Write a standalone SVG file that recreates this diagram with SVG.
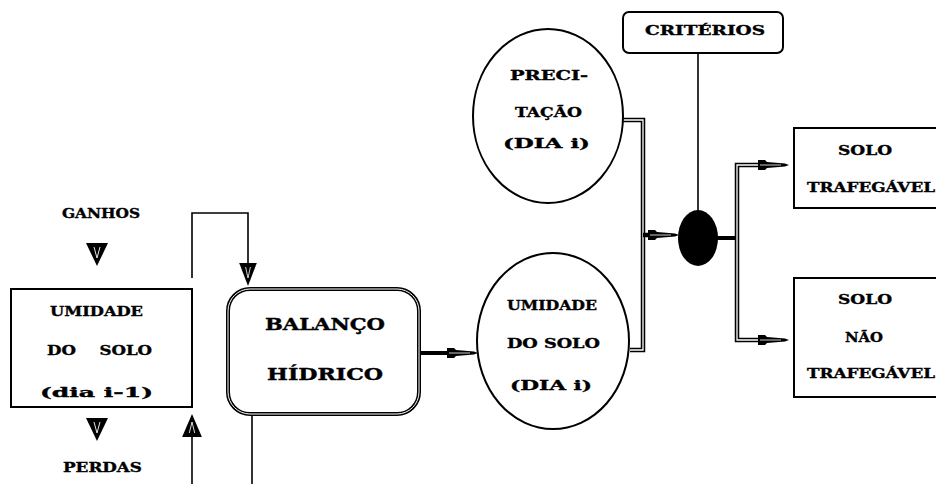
<svg xmlns="http://www.w3.org/2000/svg" width="936" height="484" viewBox="0 0 936 484">
<defs>
<style>
.t{font-family:"DejaVu Serif","Liberation Serif",serif;font-weight:bold;font-size:13px;fill:#000;stroke:#000;stroke-width:0.35}
.tb{font-family:"DejaVu Serif","Liberation Serif",serif;font-weight:bold;font-size:17px;fill:#000;stroke:#000;stroke-width:0.4}
.thin{fill:none;stroke:#000;stroke-width:1.6}
.dbl{fill:none;stroke:#000;stroke-width:4.5}
.dblin{fill:none;stroke:#fff;stroke-width:1.3}
.thick{fill:none;stroke:#000;stroke-width:4}
.box{fill:#fff;stroke:#000;stroke-width:2}
</style>
<g id="spear">
<path d="M-31,-5 L-24,-5 L-22,-3 L-4,-1.5 L0,0 L-4,1.5 L-22,3 L-24,5 L-31,5 Z" fill="#000"/>
<path d="M-29,0 L-8,0" stroke="#fff" stroke-width="0.8"/>
</g>
<g id="tri">
<polygon points="-11,0 11,0 0,23" fill="#000"/>
<polyline points="-3,4 0,15 3,4" fill="none" stroke="#fff" stroke-width="0.9"/>
</g>
</defs>
<rect width="936" height="484" fill="#fff"/>

<g id="connectors">
<use href="#tri" x="97" y="243"/>
<use href="#tri" x="97" y="418"/>
<path class="thin" d="M192,278 L192,213 L248,213 L248,263"/>
<use href="#tri" transform="translate(248,263) scale(0.8,1)"/>
<path class="thin" d="M192,484 L192,432"/>
<use href="#tri" transform="translate(192,437) scale(0.9,-1)"/>
<path class="thin" d="M252,415 L252,484"/>
<path class="thick" d="M420,353 L452,353"/>
<use href="#spear" x="478" y="353"/>
<path class="dbl" d="M623,120 L643,120 L643,350 L630,350"/>
<path class="dblin" d="M623,120 L643,120 L643,350 L630,350"/>
<path class="dbl" d="M643,235 L652,235"/>
<use href="#spear" x="679" y="235"/>
<path class="thin" d="M698,53 L698,211"/>
<path class="thick" d="M717,238 L737,238"/>
<path class="dbl" d="M762,165 L737,165 L737,340 L762,340"/>
<path class="dblin" d="M762,165 L737,165 L737,340 L762,340"/>
<use href="#spear" x="789" y="165"/>
<use href="#spear" x="789" y="340"/>
</g>

<g id="ganhos">
<text class="t" x="62" y="218" textLength="78" lengthAdjust="spacingAndGlyphs">GANHOS</text>
</g>
<g id="perdas">
<text class="t" x="63" y="472" textLength="79" lengthAdjust="spacingAndGlyphs">PERDAS</text>
</g>

<g id="umidade-dia-anterior">
<rect class="box" x="11" y="289" width="181" height="118"/>
<text class="t" x="50" y="316" textLength="93" lengthAdjust="spacingAndGlyphs">UMIDADE</text>
<text class="t" x="47" y="355" textLength="105" lengthAdjust="spacingAndGlyphs" word-spacing="14">DO SOLO</text>
<text class="t" x="40" y="397" textLength="113" lengthAdjust="spacingAndGlyphs">(dia i-1)</text>
</g>

<g id="balanco-hidrico">
<rect x="228" y="289" width="191" height="125" rx="22" fill="#fff" stroke="#000" stroke-width="4"/>
<rect x="228" y="289" width="191" height="125" rx="22" fill="none" stroke="#fff" stroke-width="1"/>
<text class="tb" x="265" y="330" textLength="120" lengthAdjust="spacingAndGlyphs">BALANÇO</text>
<text class="tb" x="267" y="380" textLength="116" lengthAdjust="spacingAndGlyphs">HÍDRICO</text>
</g>

<g id="umidade-dia-i">
<ellipse cx="553" cy="341" rx="76" ry="88" fill="#fff" stroke="#000" stroke-width="2"/>
<text class="t" x="507" y="310" textLength="90" lengthAdjust="spacingAndGlyphs">UMIDADE</text>
<text class="t" x="507" y="348" textLength="93" lengthAdjust="spacingAndGlyphs">DO SOLO</text>
<text class="t" x="510" y="390" textLength="82" lengthAdjust="spacingAndGlyphs">(DIA i)</text>
</g>

<g id="precipitacao">
<ellipse cx="548" cy="116" rx="75" ry="87" fill="#fff" stroke="#000" stroke-width="2"/>
<text class="t" x="510" y="80" textLength="78" lengthAdjust="spacingAndGlyphs">PRECI-</text>
<text class="t" x="515" y="117" textLength="67" lengthAdjust="spacingAndGlyphs">TAÇÃO</text>
<text class="t" x="503" y="148" textLength="87" lengthAdjust="spacingAndGlyphs">(DIA i)</text>
</g>

<g id="criterios">
<rect x="623" y="12" width="160" height="41" rx="6" fill="#fff" stroke="#000" stroke-width="2"/>
<text class="t" x="645" y="35" textLength="120" lengthAdjust="spacingAndGlyphs">CRITÉRIOS</text>
</g>

<g id="decisao">
<ellipse cx="698" cy="238" rx="20" ry="28" fill="#000"/>
</g>

<g id="solo-trafegavel">
<rect class="box" x="794" y="128" width="150" height="80"/>
<text class="t" x="838" y="155" textLength="54" lengthAdjust="spacingAndGlyphs">SOLO</text>
<text class="t" x="807" y="192" textLength="128" lengthAdjust="spacingAndGlyphs">TRAFEGÁVEL</text>
</g>

<g id="solo-nao-trafegavel">
<rect class="box" x="794" y="278" width="150" height="119"/>
<text class="t" x="838" y="304" textLength="54" lengthAdjust="spacingAndGlyphs">SOLO</text>
<text class="t" x="845" y="342" textLength="38" lengthAdjust="spacingAndGlyphs">NÃO</text>
<text class="t" x="807" y="378" textLength="128" lengthAdjust="spacingAndGlyphs">TRAFEGÁVEL</text>
</g>
</svg>
